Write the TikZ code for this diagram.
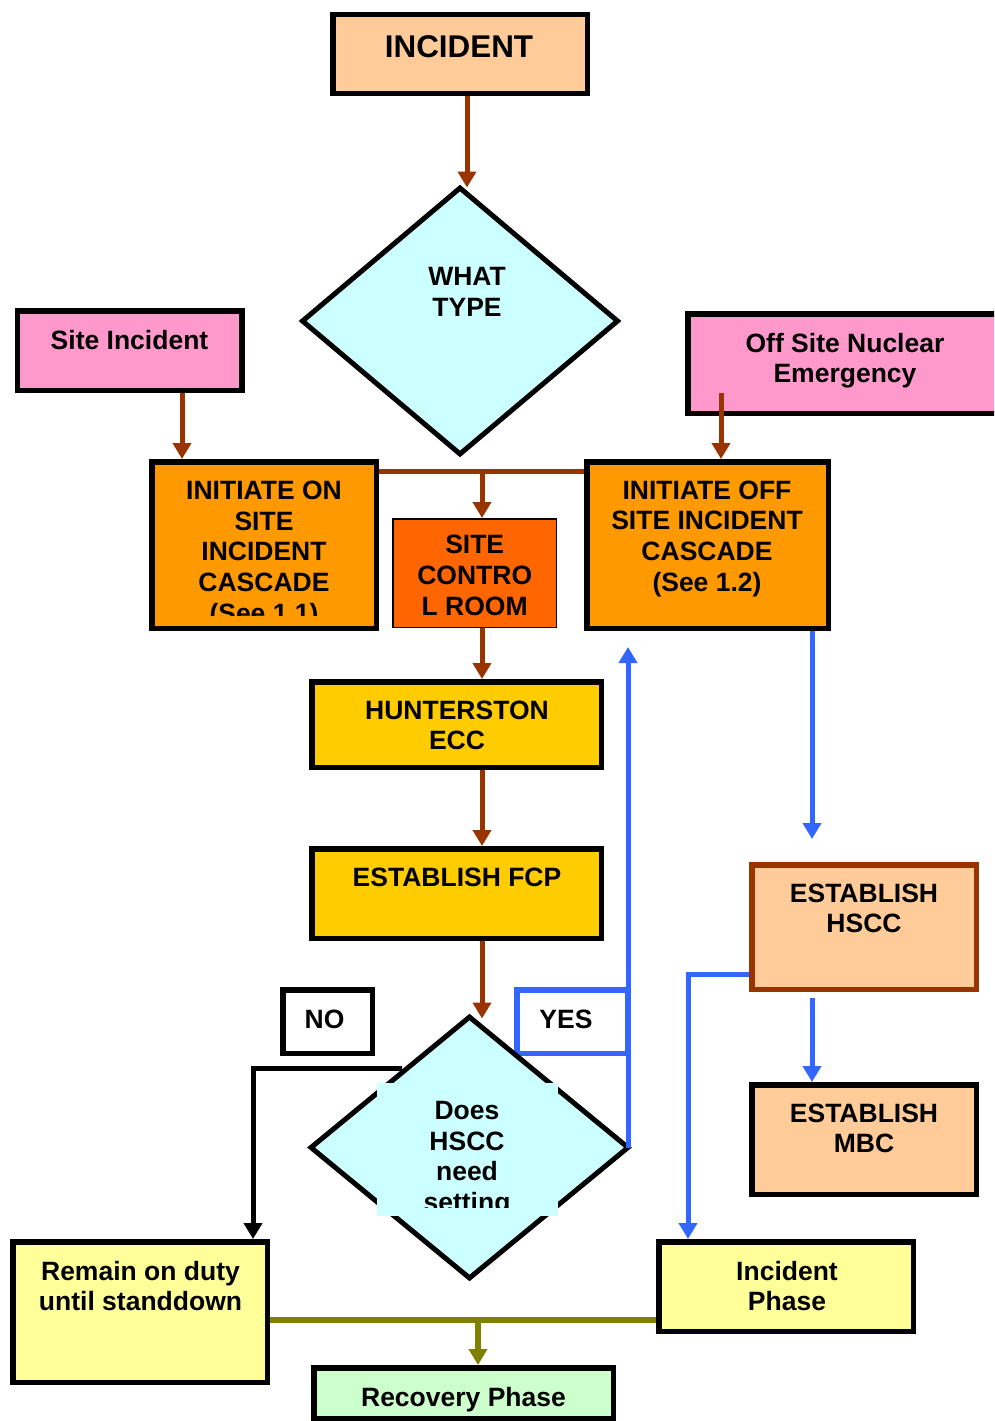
\documentclass[tikz,border=0pt]{standalone}
\usepackage{fontspec}
\setmainfont{Liberation Sans}
\usetikzlibrary{shapes.geometric,arrows.meta,calc}
\definecolor{peach}{HTML}{FFCC99}
\definecolor{ltcyan}{HTML}{CCFFFF}
\definecolor{pinkbox}{HTML}{FF99CC}
\definecolor{orangebox}{HTML}{FF9900}
\definecolor{redorange}{HTML}{FF6600}
\definecolor{goldbox}{HTML}{FFCC00}
\definecolor{paleyellow}{HTML}{FFFF99}
\definecolor{palegreen}{HTML}{CCFFCC}
\definecolor{brownline}{HTML}{993300}
\definecolor{blueline}{HTML}{3366FF}
\definecolor{oliveline}{HTML}{808000}
\begin{document}
\begin{tikzpicture}[x=1pt,y=-1pt,
  box/.style={draw=black, line width=5.5pt, rectangle, inner sep=0pt},
  sz/.style 2 args={minimum width=#1pt, minimum height=#2pt},
  dia/.style={draw=black, line width=5pt, diamond, inner sep=0pt, fill=ltcyan},
  txt/.style={font=\fontsize{26.5}{30.7}\selectfont\bfseries, align=center, inner sep=0pt},
  mytip/.style={-{Triangle[width=18pt,length=16pt]}},
  brline/.style={draw=brownline, line width=5pt},
  brarrow/.style={brline, mytip},
  blarrow/.style={draw=blueline, line width=5pt, mytip},
  blkarrow/.style={draw=black, line width=5pt, mytip},
  olline/.style={draw=oliveline, line width=6pt},
  olarrow/.style={olline, mytip}
]
\useasboundingbox (0,0) rectangle (994,1421);
\begin{scope}
\clip (0,0) rectangle (994,1421);
% boxes
\node[box, fill=peach, sz={254.5}{78.5}] (inc) at (460,54) {};
\node[dia, minimum width=317pt, minimum height=268pt] (wt) at (460,321) {};
\node[box, fill=pinkbox, sz={224.5}{79.5}] (si) at (129.5,350.5) {};
\node[box, fill=pinkbox, sz={314.5}{99.5}] (os) at (845,363.5) {};
\node[box, fill=orangebox, sz={224.5}{166.5}] (on) at (264,545) {};
\node[box, fill=redorange, line width=1.5pt, sz={163.5}{108.5}] (scr) at (474.5,573) {};
\node[box, fill=orangebox, sz={241.5}{166.5}] (off) at (707.5,545) {};
\node[box, fill=goldbox, sz={289.5}{85.5}] (hunt) at (456.5,724.5) {};
\node[box, fill=goldbox, sz={289.5}{89.5}] (fcp) at (456.5,893.5) {};
\node[box, draw=brownline, fill=peach, sz={224.5}{124.5}] (hscc) at (864,927) {};
\node[box, fill=peach, sz={224.5}{109.5}] (mbc) at (864,1139.5) {};
\node[box, fill=white, sz={89.5}{63.5}] (no) at (327.5,1021.5) {};
\node[box, draw=blueline, fill=white, sz={110.5}{63.5}] (yes) at (572,1021.5) {};
\node[dia, minimum width=319pt, minimum height=263pt] (hs) at (469.5,1147.5) {};
\fill[ltcyan] (377,1083) rectangle (558,1216);
\node[box, fill=paleyellow, sz={254.5}{140.5}] (rem) at (140,1312) {};
\node[box, fill=paleyellow, sz={254.5}{89.5}] (ip) at (786,1286.5) {};
\node[box, fill=palegreen, sz={299.5}{50.5}] (rec) at (463.5,1393) {};
% texts
\node[txt, font=\fontsize{31.4}{36}\selectfont\bfseries] (inct) at (459,46.7) {INCIDENT};
\node[txt] (wtt) at (467,292) {WHAT\\TYPE};
\node[txt] (sit) at (129.5,340) {Site Incident};
\node[txt] (ost) at (845,360.8) {Off Site Nuclear\\Emergency};
\begin{scope}
\clip (150,455) rectangle (379,615);
\node[txt] (ont) at (264,554.2) {INITIATE ON\\SITE\\INCIDENT\\CASCADE\\(See 1.1)};
\end{scope}
\node[txt] (scrt) at (474.7,575.5) {SITE\\CONTRO\\L ROOM};
\node[txt] (offt) at (707,538.8) {INITIATE OFF\\SITE INCIDENT\\CASCADE\\(See 1.2)};
\node[txt] (huntt) at (457,725.5) {HUNTERSTON\\ECC};
\node[txt] (fcpt) at (457,877) {ESTABLISH FCP};
\node[txt] (hscct) at (864,908.5) {ESTABLISH\\HSCC};
\node[txt] (mbct) at (864,1128.5) {ESTABLISH\\MBC};
\node[txt] (not) at (324.5,1019) {NO};
\node[txt] (yest) at (566,1019) {YES};
\begin{scope}
\clip (377,1083) rectangle (558,1207);
\node[txt] (hst) at (467,1159.3) {Does\\HSCC\\need\\setting};
\end{scope}
\node[txt] (remt) at (140.5,1286) {Remain on duty\\until standdown};
\node[txt] (ipt) at (787,1286) {Incident\\Phase};
\node[txt] (rect) at (463.5,1399.8) {Recovery Phase};
% connectors
\coordinate (incout) at ($(inc.south)+(7,0)$);
\draw[brarrow] (incout) -- ($(incout |- wt.north)+(0,3)$);
\coordinate (siout) at ($(si.south)+(52.5,0)$);
\draw[brarrow] (siout) -- (siout |- on.north);
\coordinate (osout) at (721,393);
\draw[brarrow] (osout) -- (osout |- off.north);
\coordinate (spine) at (482,471);
\draw[brline] (on.east |- spine) -- (off.west |- spine);
\draw[brarrow] (spine) -- (spine |- scr.north);
\draw[brarrow] (scr.south -| spine) -- (hunt.north -| spine);
\draw[brarrow] (hunt.south -| spine) -- (fcp.north -| spine);
\draw[brarrow] (fcp.south -| spine) -- ($(hs.north -| spine)+(0,5)$);
\coordinate (yestop) at (628,647);
\draw[blarrow] (hs.east -| yestop) -- (yestop);
\coordinate (nostart) at (402,1068);
\draw[blkarrow] (nostart) -| ($(rem.north)+(113,0)$);
\coordinate (hsccin) at (812,839);
\draw[blarrow] (off.south -| hsccin) -- (hsccin);
\coordinate (mbcfrom) at (812,998);
\draw[blarrow] (mbcfrom) -- (mbcfrom |- mbc.north);
\draw[blarrow] ($(hscc.west)+(0,47)$) -| ($(ip.north)+(-98,0)$);
\coordinate (olj) at (478,1320);
\draw[olline] (rem.east |- olj) -- (ip.west |- olj);
\draw[olarrow] (olj) -- (olj |- rec.north);
\end{scope}
\end{tikzpicture}
\end{document}
